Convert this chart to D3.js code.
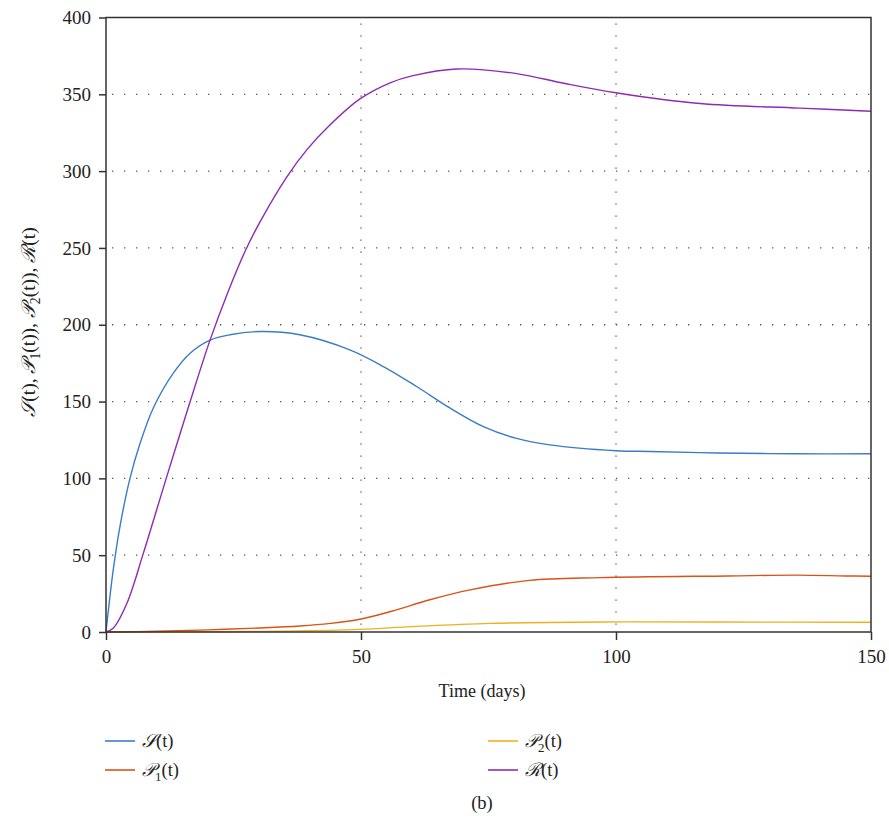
<!DOCTYPE html>
<html><head><meta charset="utf-8">
<script src="https://cdn.jsdelivr.net/npm/d3@7"></script>
<style>body{margin:0;background:#fff}svg{display:block}</style>
</head><body>
<script>
const sTimes = [0,1.4,2.7,4.7,6.7,9.3,13.2,16.5,20.4,24.3,30.2,38,47.8,54.4,60.9,67.5,74,80.5,87,100,106.7,120,135,150];
const sValues = [0,40,68,100,123,146,168.5,181.5,190,193.5,195.6,193.5,183.7,172.8,159.8,145.7,133.7,126,121.8,118,117.5,116.5,116,116];
const p1Times = [0,10,20,30,38,44,49.8,56,63.5,71.4,83,96.9,122,135.4,145,150];
const p1Values = [0,0.5,1.4,2.6,3.9,5.6,8.3,13.5,21,27.4,33.6,35.4,36.5,37,36.5,36.3];
const p2Times = [0,20,35,49.8,60,75.3,97,120,150];
const p2Values = [0,0.2,0.6,1.7,3.5,5.6,6.5,6.5,6.3];
const rTimes = [0,1.4,4.1,7.3,11.9,16.5,20.4,24,27.3,30.2,35.4,39.4,43.9,49.8,55.7,60,68.8,80.5,90,100,116.5,136,150];
const rValues = [0,2.4,18.7,51,101,150,190,222,248,267,296,314,330,347,357.5,362,366.5,363.5,357,351,344,341,339];
const xTicks = [0,50,100,150];
const yTicks = [0,50,100,150,200,250,300,350,400];
const xGrid = [50,100];
const yGrid = [50,100,150,200,250,300,350];

const W=889,H=828;
const svg=d3.select("body").append("svg").attr("width",W).attr("height",H);
const x=d3.scaleLinear().domain([0,150]).range([106,871]);
const y=d3.scaleLinear().domain([0,400]).range([632,17.5]);
const serif="'Liberation Serif','DejaVu Serif',serif";

// grid
const g=svg.append("g");
g.selectAll("line.hg").data(yGrid).join("line")
 .attr("x1",x(0)+6).attr("x2",x(150)).attr("y1",d=>y(d)).attr("y2",d=>y(d))
 .attr("stroke","#555").attr("stroke-width",1.3).attr("stroke-dasharray","1.3,10.7");
g.selectAll("line.vg").data(xGrid).join("line")
 .attr("x1",d=>x(d)).attr("x2",d=>x(d)).attr("y1",y(400)+6).attr("y2",y(0))
 .attr("stroke","#555").attr("stroke-width",1.3).attr("stroke-dasharray","1.3,10.7");

// lines
const series=[
 {t:p2Times,v:p2Values,c:"#EDB120"},
 {t:p1Times,v:p1Values,c:"#D95319"},
 {t:sTimes,v:sValues,c:"#3A7DC6"},
 {t:rTimes,v:rValues,c:"#8E2BB6"}
];
const line=d3.line().x(d=>x(d[0])).y(d=>y(d[1])).curve(d3.curveCatmullRom.alpha(0.5));
series.forEach(s=>{
 svg.append("path").attr("d",line(s.t.map((t,i)=>[t,s.v[i]])))
  .attr("fill","none").attr("stroke",s.c).attr("stroke-width",1.4);
});

// frame
svg.append("rect").attr("x",x(0)).attr("y",y(400)).attr("width",x(150)-x(0)).attr("height",y(0)-y(400))
 .attr("fill","none").attr("stroke","#333").attr("stroke-width",1.5);

// axes
const xa=svg.append("g").attr("transform",`translate(0,${y(0)})`)
 .call(d3.axisBottom(x).tickValues(xTicks).tickSize(8).tickPadding(10).tickFormat(d3.format("d")));
const ya=svg.append("g").attr("transform",`translate(${x(0)},0)`)
 .call(d3.axisLeft(y).tickValues(yTicks).tickSize(7).tickPadding(8).tickFormat(d3.format("d")));
[xa,ya].forEach(a=>{
 a.attr("font-family",serif).attr("font-size",19);
 a.select(".domain").remove();
 a.selectAll(".tick line").attr("stroke","#333").attr("stroke-width",1.5);
 a.selectAll("text").attr("fill","#222");
});

// axis titles
svg.append("text").attr("x",482).attr("y",697).attr("text-anchor","middle")
 .attr("font-family",serif).attr("font-size",18).attr("fill","#222").text("Time (days)");

const yl=svg.append("text").attr("transform","translate(35,322) rotate(-90)").attr("text-anchor","middle")
 .attr("font-family",serif).attr("font-size",19.5).attr("fill","#222");
function addLabel(el,letter,sub,tail){
 el.append("tspan").attr("font-style","italic").text(letter);
 if(sub){el.append("tspan").attr("font-size","0.7em").attr("dy",5).text(sub);
         el.append("tspan").attr("dy",-5).text(tail);}
 else el.append("tspan").text(tail);
}
addLabel(yl,"𝒮",null,"(t), ");
addLabel(yl,"𝒫","1","(t)), ");
addLabel(yl,"𝒫","2","(t)), ");
addLabel(yl,"ℛ",null,"(t)");

// legend
const legend=[
 {c:"#3A7DC6",letter:"𝒮",sub:null,x:105,y:741},
 {c:"#D95319",letter:"𝒫",sub:"1",x:105,y:770},
 {c:"#EDB120",letter:"𝒫",sub:"2",x:488,y:741},
 {c:"#8E2BB6",letter:"ℛ",sub:null,x:488,y:770}
];
legend.forEach(l=>{
 svg.append("line").attr("x1",l.x).attr("x2",l.x+30).attr("y1",l.y).attr("y2",l.y)
  .attr("stroke",l.c).attr("stroke-width",1.6);
 const t=svg.append("text").attr("x",l.x+37).attr("y",l.y+6)
  .attr("font-family",serif).attr("font-size",18.5).attr("fill","#222");
 addLabel(t,l.letter,l.sub,"(t)");
});

svg.append("text").attr("x",482).attr("y",809).attr("text-anchor","middle")
 .attr("font-family",serif).attr("font-size",18.5).attr("fill","#222").text("(b)");
</script>
</body></html>
